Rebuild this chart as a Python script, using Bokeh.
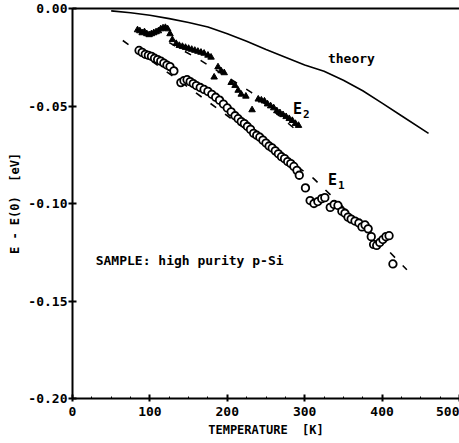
from bokeh.plotting import figure
from bokeh.models import Range1d, LinearAxis, Label, FixedTicker, CustomJSTickFormatter
from bokeh.embed import file_html
from bokeh.resources import INLINE

# ---- data ----
theory_T = [50, 75, 100, 125, 150, 175, 200, 225, 250, 275, 300, 325, 350, 375, 400, 425, 460]
theory_E = [-0.0012, -0.0022, -0.0035, -0.0052, -0.0072, -0.0095, -0.0130, -0.0168, -0.0210,
            -0.0250, -0.0290, -0.0322, -0.0368, -0.0422, -0.0485, -0.0550, -0.0640]

e1_T = [86, 90, 94, 98, 102, 106, 110, 114, 118, 122, 126, 131,
        140, 144, 148, 152, 156, 160, 165, 170, 175, 180, 185, 190, 195, 200, 205,
        210, 214, 218, 222, 226, 230, 234, 238, 242, 246, 250, 254, 258, 262, 266,
        270, 274, 278, 282, 286, 290, 293,
        301, 307, 312, 317, 322, 326,
        333, 338, 343, 348, 352, 356, 360, 365, 370, 374, 378, 382, 386,
        389, 393, 397, 401, 405, 409, 414]
e1_E = [-0.0215, -0.0225, -0.0235, -0.0240, -0.0245, -0.0255, -0.0262, -0.0270, -0.0280, -0.0290, -0.0298, -0.0320,
        -0.0380, -0.0370, -0.0365, -0.0375, -0.0385, -0.0395, -0.0405, -0.0415, -0.0425, -0.0440, -0.0455, -0.0470, -0.0490, -0.0510, -0.0530,
        -0.0550, -0.0565, -0.0580, -0.0590, -0.0605, -0.0620, -0.0640, -0.0650, -0.0660, -0.0675, -0.0690, -0.0705, -0.0715, -0.0730, -0.0745,
        -0.0760, -0.0770, -0.0785, -0.0795, -0.0810, -0.0830, -0.0855,
        -0.0920, -0.0985, -0.1000, -0.0990, -0.0975, -0.0970,
        -0.1020, -0.1005, -0.1010, -0.1040, -0.1050, -0.1070, -0.1080, -0.1090, -0.1100, -0.1120, -0.1110, -0.1130, -0.1170,
        -0.1210, -0.1215, -0.1200, -0.1185, -0.1170, -0.1165, -0.1310]

e2_T = [84, 87, 90, 93, 96, 99, 102, 105, 108, 111, 114, 117, 120, 123, 126, 129,
        134, 138, 142, 146, 150, 154, 158, 162, 166, 170, 175, 179,
        183, 188, 192, 196, 205, 210, 214, 218, 224, 232,
        240, 244, 248, 252, 256, 260, 264, 268, 272, 276, 280, 284, 288, 292]
e2_E = [-0.0110, -0.0115, -0.0125, -0.0120, -0.0130, -0.0135, -0.0130, -0.0125, -0.0120, -0.0115, -0.0105, -0.0100, -0.0098, -0.0105, -0.0130, -0.0160,
        -0.0180, -0.0190, -0.0195, -0.0200, -0.0205, -0.0210, -0.0215, -0.0220, -0.0225, -0.0230, -0.0240, -0.0250,
        -0.0352, -0.0300, -0.0320, -0.0330, -0.0380, -0.0395, -0.0420, -0.0440, -0.0450, -0.0520,
        -0.0465, -0.0470, -0.0475, -0.0490, -0.0500, -0.0510, -0.0525, -0.0535, -0.0545, -0.0555, -0.0565, -0.0575, -0.0590, -0.0600]

fit1_T = [65, 150, 250, 311, 410, 432]
fit1_E = [-0.0164, -0.0405, -0.0695, -0.0870, -0.1250, -0.1340]

fit2_T = [125, 166, 231, 294]
fit2_E = [-0.0175, -0.0267, -0.0430, -0.0640]

x_ticks = [0, 100, 200, 300, 400, 500]
y_ticks = [0.0, -0.05, -0.10, -0.15, -0.20]

FONT = "DejaVu Sans Mono"
NB = "\u00a0"

p = figure(frame_width=387, frame_height=390, output_backend="svg", toolbar_location=None,
           x_range=Range1d(0, 500), y_range=Range1d(-0.2, 0.0),
           min_border_left=72, min_border_right=0, min_border_top=8, min_border_bottom=0,
           x_axis_label="TEMPERATURE" + NB + NB + "[K]",
           y_axis_label="E" + NB + "-" + NB + "E(0)" + NB + NB + "[eV]")
p.outline_line_color = None
p.grid.visible = False
p.background_fill_color = "white"
p.border_fill_color = "white"

for ax in [p.xaxis[0], p.yaxis[0]]:
    ax.axis_line_width = 2
    ax.axis_line_color = "black"
    ax.major_tick_line_width = 2
    ax.major_tick_line_color = "black"
    ax.major_tick_in = 4
    ax.major_tick_out = 4
    ax.major_label_text_font = FONT
    ax.major_label_text_font_style = "bold"
    ax.major_label_text_color = "black"
    ax.axis_label_text_font = FONT
    ax.axis_label_text_font_style = "bold"
    ax.axis_label_text_color = "black"
    ax.axis_label_text_font_size = "12px"

p.xaxis[0].ticker = FixedTicker(ticks=x_ticks, minor_ticks=list(range(0, 501, 25)))
p.xaxis[0].minor_tick_in = 2
p.xaxis[0].minor_tick_out = 0
p.xaxis[0].minor_tick_line_color = "black"
p.xaxis[0].major_tick_out = 3
p.xaxis[0].major_label_text_font_size = "13px"
p.xaxis[0].major_label_standoff = 5
p.xaxis[0].axis_label_standoff = 4

p.yaxis[0].ticker = FixedTicker(ticks=y_ticks)
p.yaxis[0].minor_tick_line_color = None
p.yaxis[0].major_label_text_font_size = "13px"
p.yaxis[0].major_label_standoff = 1
p.yaxis[0].axis_label_standoff = 3
p.yaxis[0].formatter = CustomJSTickFormatter(code="return tick.toFixed(2);")

top = LinearAxis(ticker=FixedTicker(ticks=[]), axis_line_width=2, axis_line_color="black",
                 major_tick_line_color=None, minor_tick_line_color=None,
                 major_label_text_font_size="0px")
p.add_layout(top, "above")

# theory
p.line(theory_T, theory_E, line_color="black", line_width=1.6)
# fits
p.line(fit1_T, fit1_E, line_color="black", line_width=1.6, line_dash="7 11")
p.line(fit2_T, fit2_E, line_color="black", line_width=1.6, line_dash="7 11")
# data
p.scatter(e1_T, e1_E, marker="circle", size=7.5, fill_color="white", line_color="black", line_width=1.8)
p.scatter(e2_T, e2_E, marker="triangle", size=6.5, fill_color="black", line_color="black")

def lab(x, y, t, size="13px", xo=0, yo=0):
    p.add_layout(Label(x=x, y=y, text=t, x_offset=xo, y_offset=yo, text_font=FONT,
                       text_font_style="bold", text_font_size=size, text_color="black",
                       text_baseline="middle", text_align="left"))

lab(330, -0.0255, "theory")
lab(285, -0.0513, "E", "15px")
lab(285, -0.0513, "2", "11px", xo=10, yo=-5)
lab(330, -0.0877, "E", "15px")
lab(330, -0.0877, "1", "11px", xo=10, yo=-5)
lab(30, -0.1292, "SAMPLE:" + NB + "high" + NB + "purity" + NB + "p-Si")

open("out.html", "w").write(file_html(p, INLINE))
